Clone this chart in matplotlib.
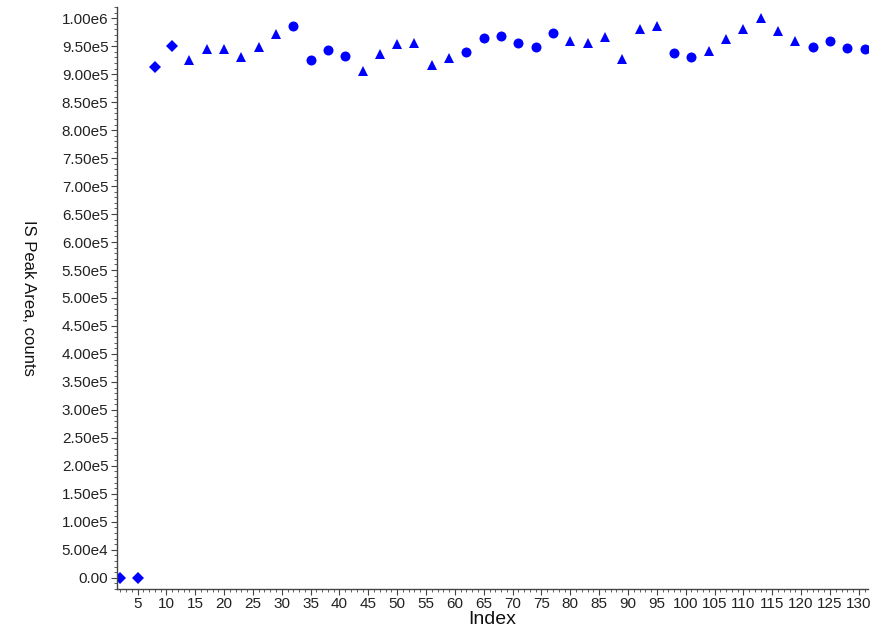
import matplotlib
matplotlib.use("Agg")
import matplotlib.pyplot as plt
from matplotlib.ticker import MultipleLocator, FuncFormatter
import math

plt.rcParams['font.family'] = ['Liberation Sans', 'DejaVu Sans']

# Data
diamond_idx = [2, 5, 8, 11]
diamond_val = [0, 0, 913e3, 950e3]

triangle_idx = [14, 17, 20, 23, 26, 29,
                44, 47, 50, 53, 56, 59,
                80, 83, 86, 89, 92, 95,
                104, 107, 110, 113, 116, 119]
triangle_val = [925e3, 945e3, 945e3, 930e3, 948e3, 972e3,
                905e3, 936e3, 954e3, 955e3, 917e3, 929e3,
                960e3, 955e3, 967e3, 927e3, 980e3, 986e3,
                941e3, 962e3, 980e3, 1000e3, 977e3, 959e3]

circle_idx = [32, 35, 38, 41,
              62, 65, 68, 71, 74, 77,
              98, 101,
              122, 125, 128, 131]
circle_val = [986e3, 925e3, 944e3, 933e3,
              940e3, 964e3, 968e3, 955e3, 948e3, 973e3,
              937e3, 930e3,
              949e3, 960e3, 946e3, 945e3]

x_label = "Index"
y_label = "IS Peak Area, counts"

fig = plt.figure(figsize=(8.81, 6.29), dpi=100)
ax = fig.add_axes([0.1325, 0.0636, 0.8528, 0.9253])

blue = '#0000ff'
ax.plot(diamond_idx, diamond_val, linestyle='none', marker='D', markersize=5.8,
        color=blue, markeredgewidth=0)
ax.plot(triangle_idx, triangle_val, linestyle='none', marker='^', markersize=7.5,
        color=blue, markeredgewidth=0)
ax.plot(circle_idx, circle_val, linestyle='none', marker='o', markersize=7.2,
        color=blue, markeredgewidth=0)

ax.set_xlim(1.4, 131.6)
ax.set_ylim(-2.0e4, 1.02e6)

ax.xaxis.set_major_locator(MultipleLocator(5))
ax.xaxis.set_minor_locator(MultipleLocator(1))
ax.yaxis.set_major_locator(MultipleLocator(5e4))
ax.yaxis.set_minor_locator(MultipleLocator(1e4))

def yfmt(v, pos):
    if abs(v) < 1e-9:
        return "0.00"
    e = int(math.floor(math.log10(abs(v)) + 1e-9))
    m = v / 10 ** e
    return f"{m:.2f}e{e}"

ax.yaxis.set_major_formatter(FuncFormatter(yfmt))
ax.xaxis.set_major_formatter(FuncFormatter(lambda v, p: f"{int(round(v))}" if v >= 5 else ""))

for s in ['top', 'right']:
    ax.spines[s].set_visible(False)
for s in ['left', 'bottom']:
    ax.spines[s].set_color('#444444')
    ax.spines[s].set_linewidth(1.0)

ax.tick_params(axis='both', which='major', length=4, width=0.8, color='#444444',
               labelsize=11, labelcolor='#222222', pad=2)
ax.tick_params(axis='both', which='minor', length=2, width=0.6, color='#444444')

ax.set_xlabel(x_label, fontsize=14, color='#111111', labelpad=0)
ax.set_ylabel(y_label, fontsize=12, color='#111111', rotation=-90)
ax.yaxis.set_label_coords(-0.128, 0.5)

fig.savefig("out.png", dpi=100)
